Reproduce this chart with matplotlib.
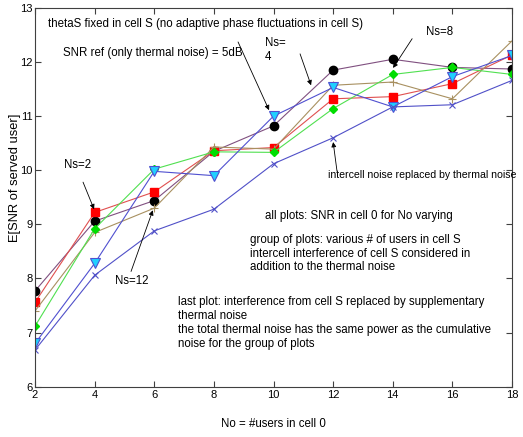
import matplotlib
matplotlib.use('Agg')
import matplotlib.pyplot as plt

plt.rcParams['font.family'] = ['Liberation Sans', 'DejaVu Sans']

No = [2, 4, 6, 8, 10, 12, 14, 16, 18]

# E[SNR] curves
snr_black = [7.77, 9.06, 9.44, 10.35, 10.82, 11.85, 12.05, 11.90, 11.87]
snr_red = [7.56, 9.22, 9.60, 10.36, 10.42, 11.32, 11.36, 11.60, 12.13]
snr_olive = [7.40, 8.85, 9.30, 10.43, 10.39, 11.57, 11.63, 11.32, 12.39]
snr_green = [7.12, 8.92, 10.02, 10.34, 10.33, 11.14, 11.77, 11.90, 11.77]
snr_cyan = [6.80, 8.28, 9.98, 9.90, 11.00, 11.53, 11.17, 11.73, 12.12]
snr_thermal = [6.68, 8.06, 8.88, 9.28, 10.12, 10.60, 11.17, 11.21, 11.66]

fig = plt.figure(figsize=(5.23, 4.37), dpi=100)
ax = fig.add_axes([0.067, 0.115, 0.912, 0.867])

ax.plot(No, snr_black, color='#805080', lw=0.8, marker='o', ms=6,
        mfc='black', mec='black')
ax.plot(No, snr_red, color='#e05050', lw=0.8, marker='s', ms=5.5,
        mfc='red', mec='red')
ax.plot(No, snr_olive, color='#a89060', lw=0.8, marker='+', ms=6,
        mew=0.8)
ax.plot(No, snr_green, color='#50e050', lw=0.8, marker='D', ms=4.5,
        mfc='#00dd00', mec='#00dd00')
ax.plot(No, snr_cyan, color='#5050d0', lw=0.8, marker='v', ms=6.5,
        mfc='#20d0ff', mec='#5050d0', mew=0.8)
ax.plot(No, snr_thermal, color='#5050c8', lw=0.8, marker='x', ms=4,
        mew=0.8)

ax.set_xlim(2, 18)
ax.set_ylim(6, 13)
ax.set_xticks(range(2, 19, 2))
ax.set_yticks(range(6, 14))
ax.tick_params(direction='in', top=True, right=True, length=4,
               labelsize=8, color='#404040', pad=2)
for s in ax.spines.values():
    s.set_color('#404040')
    s.set_linewidth(0.8)

ax.set_xlabel('No = #users in cell 0', fontsize=8.3, labelpad=13)
ax.set_ylabel('E[SNR of served user]', fontsize=9.3)
ax.yaxis.set_label_coords(-0.03, 0.551)

fs = 8.3
ls = 1.2
ax.text(2.43, 12.70, 'thetaS fixed in cell S (no adaptive phase fluctuations in cell S)',
        fontsize=fs, va='center')
ax.text(2.93, 12.16, 'SNR ref (only thermal noise) = 5dB', fontsize=fs, va='center')
ax.text(9.72, 12.22, 'Ns=\n4', fontsize=fs, va='center', linespacing=1.3)
ax.text(15.11, 12.55, 'Ns=8', fontsize=fs, va='center')
ax.text(2.97, 10.10, 'Ns=2', fontsize=fs, va='center')
ax.text(4.68, 7.95, 'Ns=12', fontsize=fs, va='center')
ax.text(11.83, 9.91, 'intercell noise replaced by thermal noise', fontsize=7.6, va='center')
ax.text(9.72, 9.15, 'all plots: SNR in cell 0 for No varying', fontsize=fs, va='center')
ax.text(9.21, 8.46, 'group of plots: various # of users in cell S\n'
        'intercell interference of cell S considered in\n'
        'addition to the thermal noise', fontsize=fs, va='center', linespacing=ls)
ax.text(6.78, 7.18, 'last plot: interference from cell S replaced by supplementary\n'
        'thermal noise\n'
        'the total thermal noise has the same power as the cumulative\n'
        'noise for the group of plots', fontsize=fs, va='center', linespacing=ls)

arrows = [
    ((8.81, 12.37), (9.85, 11.11)),
    ((10.89, 12.15), (11.26, 11.57)),
    ((14.65, 12.43), (14.01, 11.89)),
    ((3.61, 9.78), (3.98, 9.28)),
    ((5.22, 8.13), (5.95, 9.26)),
    ((12.13, 9.98), (12.00, 10.52)),
]
for (x0, y0), (x1, y1) in arrows:
    ax.annotate('', xy=(x1, y1), xytext=(x0, y0),
                arrowprops=dict(arrowstyle='-|>', color='black', lw=0.6,
                                mutation_scale=7, shrinkA=0, shrinkB=0))

fig.savefig('out.png', dpi=100)
